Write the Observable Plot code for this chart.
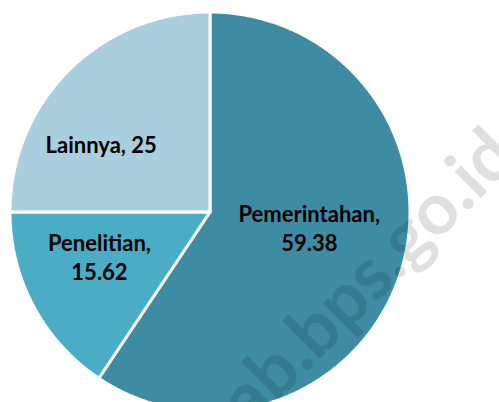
<!DOCTYPE html>
<html>
<head>
<meta charset="utf-8">
<script src="https://cdn.jsdelivr.net/npm/d3@7"></script>
<script src="https://cdn.jsdelivr.net/npm/@observablehq/plot@0.6"></script>
<style>
  html, body { margin: 0; padding: 0; background: #ffffff; }
  svg { display: block; }
</style>
</head>
<body>
<script>
// ---- Data ----
const categories = ["Pemerintahan", "Penelitian", "Lainnya"];
const values = [59.38, 15.62, 25];
const colors = ["#3D8CA3", "#4BACC6", "#A9CEDE"];
const watermark = "kab.bps.go.id";

// ---- Pie geometry (angles from the values; 0 = 12 o'clock, clockwise) ----
const total = d3.sum(values);
let acc = 0;
const slices = categories.map((c, i) => {
  const a0 = acc / total * 2 * Math.PI;
  acc += values[i];
  const a1 = acc / total * 2 * Math.PI;
  return {category: c, value: values[i], a0, a1, mid: (a0 + a1) / 2};
});

const outline = [];
for (const s of slices) {
  outline.push({category: s.category, x: 0, y: 0});
  const n = Math.max(2, Math.ceil((s.a1 - s.a0) / (Math.PI / 360)));
  for (let k = 0; k <= n; k++) {
    const a = s.a0 + (s.a1 - s.a0) * k / n;
    outline.push({category: s.category, x: Math.sin(a), y: Math.cos(a)});
  }
  outline.push({category: s.category, x: 0, y: 0});
}

const W = 499, H = 402;
const cx = 209.5, cy = 211.5, R = 200;
const f = 0.55;
const lab = slices.map(s => ({...s, lx: f * Math.sin(s.mid), ly: f * Math.cos(s.mid)}));

const textStyle = {
  x: "lx", y: "ly",
  text: d => `${d.category}, ${d.value}`,
  lineWidth: 7,
  lineHeight: 1.32,
  lineAnchor: "middle",
  fontFamily: "Lato, 'Open Sans', sans-serif",
  fontWeight: 700,
  fontSize: 22,
  fill: "#000000"
};

// ---- Watermark layout (measured with the same font) ----
const wmFont = "Lato";
const ctx = document.createElement("canvas").getContext("2d");
const meas = (s, size) => { ctx.font = `700 ${size}px ${wmFont}`; return ctx.measureText(s).width; };
const wmSize = 131 / ((meas(".bps.", 100) - meas(".", 100)) / 100);
const ang = 45 * Math.PI / 180;
// baseline point under the first visible dot, plus compensation for the
// "bottom" line anchor (baseline sits 0.29em above the anchor)
const down = (0.05 + 0.29) * wmSize;
const dotX = 293 + down * Math.sin(ang), dotY = 350 + down * Math.cos(ang);
const back = meas("kab", wmSize) + meas(".", wmSize) / 2;
const wmX = dotX - back * Math.cos(ang), wmY = dotY + back * Math.sin(ang);

const chart = Plot.plot({
  width: W,
  height: H,
  margin: 0,
  style: {background: "#ffffff", overflow: "hidden"},
  x: {domain: [-cx / R, (W - cx) / R], axis: null},
  y: {domain: [-(H - cy) / R, cy / R], axis: null},
  color: {domain: categories, range: colors},
  marks: [
    Plot.line(outline, {
      x: "x", y: "y", z: "category",
      fill: "category",
      stroke: "#ffffff",
      strokeWidth: 3,
      strokeLinejoin: "miter",
      curve: "linear"
    }),
    Plot.text([watermark], {
      frameAnchor: "top-left",
      text: d => d,
      dx: wmX, dy: wmY,
      rotate: -45,
      textAnchor: "start",
      lineAnchor: "bottom",
      fontFamily: wmFont,
      fontWeight: 700,
      fontSize: wmSize,
      fill: "#000000",
      fillOpacity: 0.12
    }),
    Plot.text(lab.filter(d => d.category === "Pemerintahan"), {...textStyle, dx: -6, dy: -17}),
    Plot.text(lab.filter(d => d.category === "Penelitian"), {...textStyle, dx: -13.5, dy: -8}),
    Plot.text(lab.filter(d => d.category === "Lainnya"), {...textStyle, dx: -31, dy: 9})
  ]
});

document.body.appendChild(chart);
</script>
</body>
</html>
